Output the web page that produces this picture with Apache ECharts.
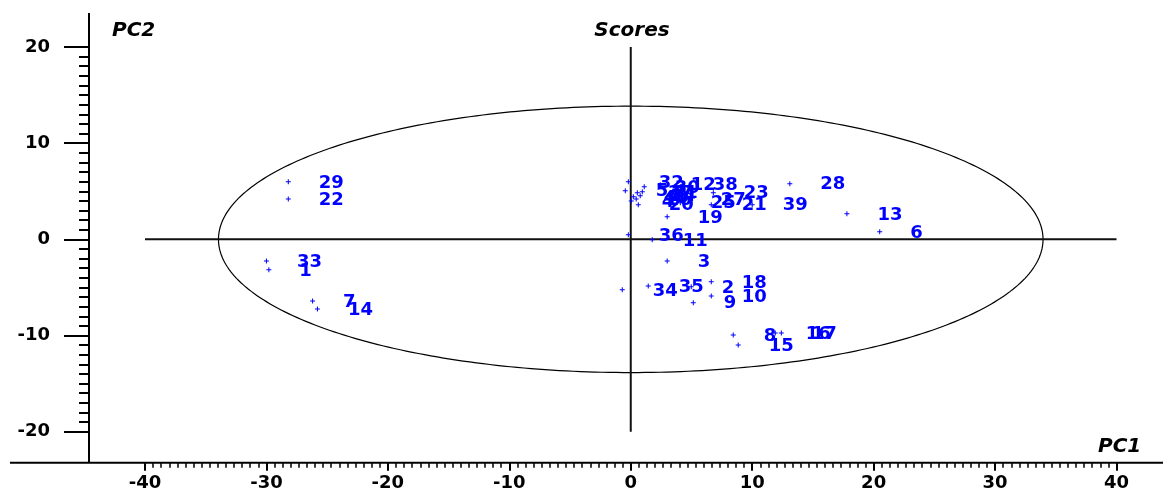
<!DOCTYPE html>
<html>
<head>
<meta charset="utf-8">
<script src="https://cdn.jsdelivr.net/npm/echarts@6/dist/echarts.min.js"></script>
<style>
  html, body { margin: 0; padding: 0; background: #fff; }
  #chart { width: 1163px; height: 495px; }
</style>
</head>
<body>
<div id="chart"></div>
<script>
// PCA score plot: PC1 vs PC2 with sample numbers
const sampleIds = ['1','2','3','4','5','6','7','8','9','10',
                   '11','12','13','14','15','16','17','18','19','20',
                   '21','22','23','24','25','26','27','28','29','30',
                   '31','32','33','34','35','36','37','38','39','40'];
const pc1Scores = [-29.8, 4.98, 3.0, 0.04, -0.45, 20.5, -26.2, 8.44, 5.15, 6.63,
                   1.77, 2.43, 17.8, -25.8, 8.85, 11.9, 12.4, 6.63, 3.0, 0.62,
                   6.63, -28.2, 6.8, 0.78, 4.08, 0.45, 4.9, 13.1, -28.2, 1.11,
                   0.95, -0.2, -30.0, -0.70, 1.44, -0.2, 0.54, 4.24, 10.0, 0.21];
const pc2Scores = [-3.17, -4.94, -2.24, 4.0, 5.05, 0.78, -6.4, -9.94, -6.6, -5.88,
                   -0.05, 5.67, 2.65, -7.23, -10.98, -9.73, -9.73, -4.42, 2.34, 3.59,
                   3.59, 4.2, 4.84, 4.53, 3.8, 4.2, 4.11, 5.78, 5.98, 5.46,
                   4.94, 5.98, -2.24, -5.25, -4.84, 0.47, 4.84, 5.67, 3.59, 4.42];

// axis ranges and tick steps
const pc1Range = [-40, 40];
const pc2Range = [-20, 20];
const tickStep = 10;

// Hotelling T2 limit ellipse (semi-axes along PC1 and PC2)
const ellipseRadii = [33.95, 13.85];

// origin cross lines
const crossPc1 = [[-40, 0], [40, 0]];
const crossPc2 = [[0, -20], [0, 20]];

// layout
const W = 1163, H = 495;
const GRID = { left: 145, right: 46.5, top: 47, bottom: 63.3 };
const Y_AXIS_SHIFT = 56;   // y axis drawn left of the plotting area
const X_AXIS_SHIFT = 31;   // x axis drawn below the plotting area
const axisX = GRID.left - Y_AXIS_SHIFT;
const axisY = H - GRID.bottom + X_AXIS_SHIFT;

const tickFont = { color: '#000', fontFamily: 'DejaVu Sans', fontWeight: 'bold', fontSize: 18 };
const titleFont = 'italic bold 20px "DejaVu Sans"';
const pointColor = '#0000ff';

const points = sampleIds.map((id, i) => ({ name: id, value: [pc1Scores[i], pc2Scores[i]] }));

const chart = echarts.init(document.getElementById('chart'), null, { renderer: 'canvas' });

chart.setOption({
  animation: false,
  backgroundColor: '#fff',
  grid: { left: GRID.left, right: GRID.right, top: GRID.top, bottom: GRID.bottom, containLabel: false },
  xAxis: {
    type: 'value',
    min: pc1Range[0], max: pc1Range[1], interval: tickStep,
    offset: X_AXIS_SHIFT,
    axisLine: { show: false, onZero: false },
    axisTick: { show: true, length: 8, lineStyle: { color: '#000', width: 2 } },
    minorTick: { show: true, splitNumber: 15, length: 5, lineStyle: { color: '#000', width: 1.5 } },
    axisLabel: { margin: 12, ...tickFont },
    splitLine: { show: false },
    minorSplitLine: { show: false }
  },
  yAxis: {
    type: 'value',
    min: pc2Range[0], max: pc2Range[1], interval: tickStep,
    offset: Y_AXIS_SHIFT,
    axisLine: { show: false, onZero: false },
    axisTick: { show: true, length: 25, lineStyle: { color: '#000', width: 2 } },
    minorTick: { show: true, splitNumber: 10, length: 10, lineStyle: { color: '#000', width: 2 } },
    axisLabel: { margin: 39, ...tickFont },
    splitLine: { show: false },
    minorSplitLine: { show: false }
  },
  graphic: [
    { type: 'line', silent: true, z: 10,
      shape: { x1: axisX, y1: 13, x2: axisX, y2: axisY },
      style: { stroke: '#000', lineWidth: 2 } },
    { type: 'line', silent: true, z: 10,
      shape: { x1: 10, y1: axisY, x2: W, y2: axisY },
      style: { stroke: '#000', lineWidth: 2 } },
    { type: 'text', silent: true, x: 632, y: 31,
      style: { text: 'Scores', font: titleFont, fill: '#000', textAlign: 'center', textVerticalAlign: 'middle' } },
    { type: 'text', silent: true, x: 112, y: 31,
      style: { text: 'PC2', font: titleFont, fill: '#000', textAlign: 'left', textVerticalAlign: 'middle' } },
    { type: 'text', silent: true, x: 1098, y: 447,
      style: { text: 'PC1', font: titleFont, fill: '#000', textAlign: 'left', textVerticalAlign: 'middle' } }
  ],
  series: [
    {
      type: 'custom',
      silent: true,
      z: 1,
      data: [[0, 0]],
      renderItem: function (params, api) {
        const cx = api.value(0), cy = api.value(1);
        const pts = [];
        for (let deg = 0; deg <= 360; deg += 1) {
          const t = deg * Math.PI / 180;
          pts.push(api.coord([cx + ellipseRadii[0] * Math.cos(t), cy + ellipseRadii[1] * Math.sin(t)]));
        }
        return { type: 'polyline', shape: { points: pts }, style: { fill: 'none', stroke: '#000', lineWidth: 1.2 } };
      }
    },
    {
      type: 'line', silent: true, z: 2, symbol: 'none',
      data: crossPc1, lineStyle: { color: '#111', width: 2 }
    },
    {
      type: 'line', silent: true, z: 2, symbol: 'none',
      data: crossPc2, lineStyle: { color: '#111', width: 2 }
    },
    {
      type: 'scatter',
      z: 5,
      data: points,
      symbol: 'path://M2,0H3V5H2Z M0,2H5V3H0Z',
      symbolSize: 5,
      itemStyle: { color: pointColor, opacity: 1 },
      emphasis: { disabled: true },
      label: {
        show: true,
        position: 'right',
        distance: 28,
        offset: [0, 1],
        formatter: p => p.name,
        color: pointColor,
        fontFamily: 'DejaVu Sans',
        fontWeight: 'bold',
        fontSize: 18
      }
    }
  ]
});
</script>
</body>
</html>
